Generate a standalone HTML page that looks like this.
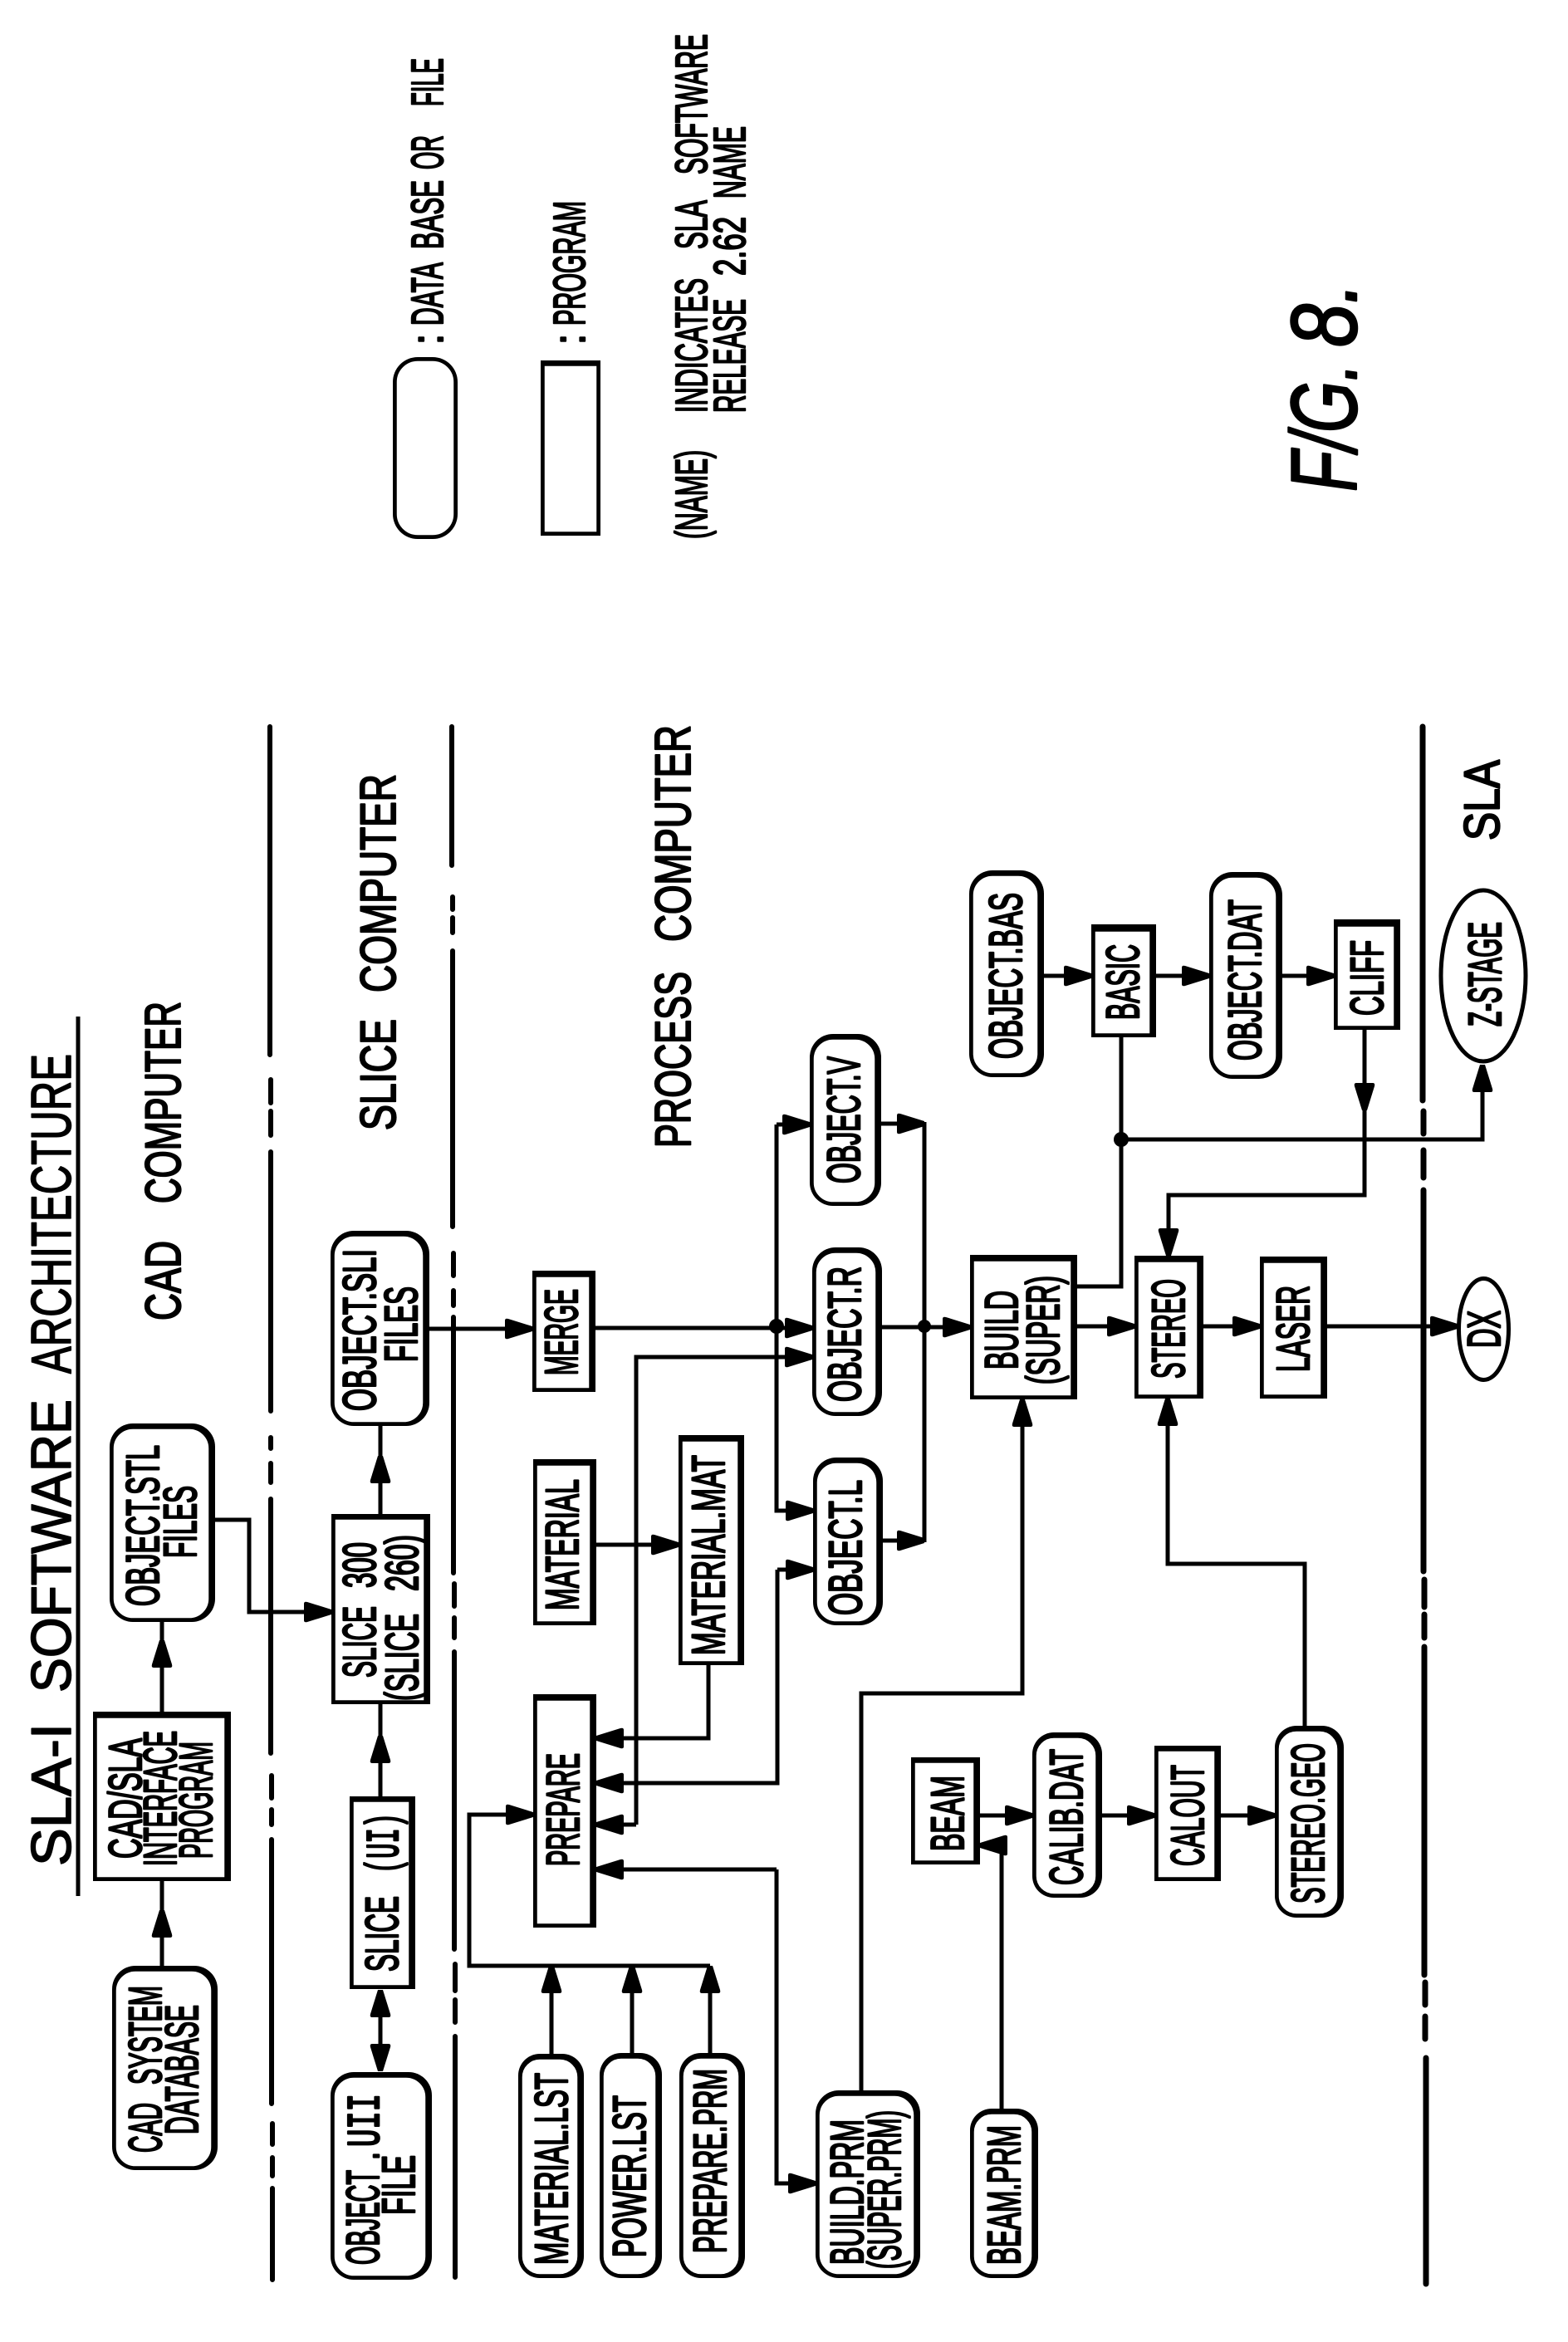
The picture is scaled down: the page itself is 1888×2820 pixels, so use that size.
<!DOCTYPE html>
<html><head><meta charset="utf-8"><title>SLA-1 Software Architecture</title>
<style>
html,body{margin:0;padding:0;background:#fff}
svg{display:block}
text{font-family:"Liberation Sans",sans-serif;fill:#000;stroke:#000;stroke-width:2.7;stroke-linejoin:round;font-size:56px}
text.mono{font-family:"Liberation Mono",monospace}
.big{font-size:60px;stroke-width:2.2}
.ttl{font-size:68px;stroke-width:1.6}
.leg{font-size:54px;stroke-width:2.4}
.fig{font-size:112px;font-style:italic;stroke-width:2.5}
.o{fill:#000;stroke:none}
.i{fill:#fff;stroke:#000;stroke-width:1.5}
.c{fill:none;stroke:#000;stroke-width:5;stroke-linejoin:miter}
.c .m{marker-end:url(#a)}
.d{fill:none;stroke:#000;stroke-width:6;stroke-linecap:round}
</style></head>
<body>
<svg xmlns="http://www.w3.org/2000/svg" width="1888" height="2820" viewBox="0 0 1888 2820">
<defs>
<marker id="a" markerUnits="userSpaceOnUse" markerWidth="36" markerHeight="26" refX="33" refY="13" orient="auto" viewBox="0 0 36 26">
<path d="M0 3Q0 0 4 1L33 10V16L4 25Q0 26 0 23Z" fill="#000"/>
</marker>
</defs>
<rect width="1888" height="2820" fill="#fff"/>

<!-- dash-dot dividers -->
<path class="d" d="M325 875V1270M326 1300V1328M326 1338V1367M326 1387V1699M326 1731V1744M326 1762V1785M326 1805V2111M327 2138V2165M327 2179V2197M327 2215V2533M328 2557V2582M328 2598V2620M328 2635V2745"/>
<path class="d" d="M544 875V1042M545 1080V1095M545 1105V1123M545 1145V1477M546 1509V1536M546 1554V1572M546 1586V1894M547 1907V1934M547 1948V1972M547 1989V2347M548 2365V2397M548 2408V2435M548 2452V2742"/>
<path class="d" style="stroke-width:7" d="M1713 875V1325M1714 1338V1365M1714 1385V1418M1714 1433V1892M1715 1902V1935M1715 1944V1972M1715 1983V2378M1716 2387V2414M1716 2428V2455M1717 2478V2750"/>
<path d="M94 1224V2283" stroke="#000" stroke-width="5" fill="none"/>

<!-- rounded data boxes -->
<rect class="o" x="135" y="2367" width="127" height="246" rx="28"/><rect class="i" x="139" y="2373" width="116" height="236" rx="24"/>
<rect class="o" x="132" y="1714" width="127" height="239" rx="28"/><rect class="i" x="136" y="1720" width="116" height="229" rx="24"/>
<rect class="o" x="398" y="1482" width="119" height="235" rx="28"/><rect class="i" x="402" y="1488" width="108" height="225" rx="24"/>
<rect class="o" x="398" y="2495" width="122" height="250" rx="28"/><rect class="i" x="402" y="2501" width="111" height="240" rx="24"/>
<rect class="o" x="624" y="2473" width="79" height="270" rx="26"/><rect class="i" x="628" y="2479" width="68" height="260" rx="22"/>
<rect class="o" x="722" y="2472" width="75" height="271" rx="26"/><rect class="i" x="726" y="2478" width="64" height="261" rx="22"/>
<rect class="o" x="818" y="2472" width="79" height="271" rx="26"/><rect class="i" x="822" y="2478" width="68" height="261" rx="22"/>
<rect class="o" x="975" y="1245" width="86" height="207" rx="28"/><rect class="i" x="979" y="1251" width="75" height="197" rx="24"/>
<rect class="o" x="978" y="1502" width="84" height="203" rx="28"/><rect class="i" x="982" y="1508" width="73" height="193" rx="24"/>
<rect class="o" x="979" y="1755" width="84" height="202" rx="28"/><rect class="i" x="983" y="1761" width="73" height="192" rx="24"/>
<rect class="o" x="982" y="2517" width="126" height="226" rx="28"/><rect class="i" x="986" y="2523" width="115" height="216" rx="24"/>
<rect class="o" x="1168" y="2539" width="82" height="204" rx="26"/><rect class="i" x="1172" y="2545" width="71" height="194" rx="22"/>
<rect class="o" x="1243" y="2086" width="84" height="199" rx="26"/><rect class="i" x="1247" y="2092" width="73" height="189" rx="22"/>
<rect class="o" x="1535" y="2078" width="83" height="231" rx="26"/><rect class="i" x="1539" y="2084" width="72" height="221" rx="22"/>
<rect class="o" x="1167" y="1048" width="90" height="249" rx="28"/><rect class="i" x="1171" y="1054" width="79" height="239" rx="24"/>
<rect class="o" x="1456" y="1050" width="88" height="249" rx="28"/><rect class="i" x="1460" y="1056" width="77" height="239" rx="24"/>
<rect class="o" x="473" y="430" width="78" height="219" rx="30"/><rect class="i" x="477" y="434" width="70" height="211" rx="26"/>

<!-- program boxes -->
<rect class="o" x="112" y="2061" width="166" height="204"/><rect class="i" x="116" y="2068" width="155" height="193"/>
<rect class="o" x="399" y="1823" width="119" height="229"/><rect class="i" x="403" y="1829" width="108" height="219"/>
<rect class="o" x="421" y="2163" width="79" height="232"/><rect class="i" x="425" y="2169" width="68" height="222"/>
<rect class="o" x="641" y="1530" width="76" height="146"/><rect class="i" x="645" y="1537" width="65" height="135"/>
<rect class="o" x="642" y="1757" width="76" height="200"/><rect class="i" x="646" y="1764" width="65" height="189"/>
<rect class="o" x="817" y="1728" width="79" height="277"/><rect class="i" x="821" y="1735" width="68" height="266"/>
<rect class="o" x="642" y="2040" width="76" height="281"/><rect class="i" x="646" y="2047" width="65" height="270"/>
<rect class="o" x="1168" y="1511" width="129" height="174"/><rect class="i" x="1172" y="1518" width="118" height="163"/>
<rect class="o" x="1366" y="1512" width="83" height="172"/><rect class="i" x="1370" y="1519" width="72" height="161"/>
<rect class="o" x="1517" y="1513" width="81" height="171"/><rect class="i" x="1521" y="1520" width="70" height="160"/>
<rect class="o" x="1097" y="2116" width="83" height="129"/><rect class="i" x="1101" y="2122" width="72" height="119"/>
<rect class="o" x="1390" y="2102" width="80" height="163"/><rect class="i" x="1394" y="2108" width="69" height="153"/>
<rect class="o" x="1314" y="1113" width="78" height="136"/><rect class="i" x="1318" y="1121" width="67" height="124"/>
<rect class="o" x="1606" y="1107" width="80" height="133"/><rect class="i" x="1610" y="1115" width="69" height="121"/>
<rect class="o" x="651" y="434" width="72" height="211"/><rect class="i" x="655" y="440" width="64" height="201"/>

<!-- ellipses -->
<ellipse cx="1786.5" cy="1600.5" rx="30" ry="61" fill="#fff" stroke="#000" stroke-width="5"/>
<ellipse cx="1786" cy="1175" rx="51" ry="103" fill="#fff" stroke="#000" stroke-width="5"/>

<!-- connectors -->
<g class="c">
<path d="M195 2367V2265"/><path class="m" d="M195 2340V2300"/>
<path d="M195 2061V1953"/><path class="m" d="M195 2028V1975"/>
<path class="m" d="M259 1830H300V1941H399"/>
<path d="M458 2163V2052"/><path class="m" d="M458 2128V2090"/>
<path d="M458 1823V1717"/><path class="m" d="M458 1788V1753"/>
<path class="m" d="M458 2470V2396"/><path class="m" d="M458 2420V2494"/>
<path class="m" d="M517 1600H641"/>
<path class="m" d="M717 1599H978"/>
<path class="m" d="M766 2197V1634H978"/><path class="m" d="M766 2197H718"/>
<path class="m" d="M718 1860H817"/>
<path class="m" d="M853 2005V2093H718"/>
<path class="m" d="M936 1890V2147H718"/><path class="m" d="M936 1890H979"/>
<path class="m" d="M935 2251H718"/><path class="m" d="M935 2251V2629H982"/>
<path class="m" d="M664 2473V2367"/><path class="m" d="M761 2472V2367"/><path class="m" d="M855 2473V2367"/>
<path class="m" d="M855 2367H565V2185H642"/>
<path class="m" d="M935 1354V1819H979"/><path class="m" d="M935 1354H975"/>
<path class="m" d="M1061 1598H1168"/>
<path class="m" d="M1061 1353H1113"/><path class="m" d="M1063 1855H1113"/><path d="M1113 1351V1857"/>
<path class="m" d="M1297 1597H1366"/><path class="m" d="M1449 1597H1517"/><path class="m" d="M1598 1597H1755"/>
<path class="m" d="M1037 2517V2039H1231V1685"/>
<path class="m" d="M1206 2539V2222H1180"/>
<path class="m" d="M1180 2186H1243"/><path class="m" d="M1327 2186H1390"/><path class="m" d="M1470 2186H1535"/>
<path class="m" d="M1571 2078V1883H1406V1684"/>
<path class="m" d="M1257 1175H1314"/><path class="m" d="M1392 1175H1456"/><path class="m" d="M1544 1175H1606"/>
<path d="M1350 1249V1549H1297"/>
<path class="m" d="M1350 1372H1785V1282"/>
<path class="m" d="M1643 1240V1439H1407V1512"/><path class="m" d="M1643 1300V1337"/>
</g>
<circle cx="935" cy="1597" r="9"/><circle cx="1113" cy="1597" r="8"/><circle cx="1350" cy="1372" r="9"/>

<!-- headings -->
<text class="ttl" transform="translate(85,2247) rotate(-90)" textLength="172" lengthAdjust="spacingAndGlyphs">SLA-I</text>
<text class="ttl" transform="translate(85,2038) rotate(-90)" textLength="353" lengthAdjust="spacingAndGlyphs">SOFTWARE</text>
<text class="ttl" transform="translate(85,1654) rotate(-90)" textLength="385" lengthAdjust="spacingAndGlyphs">ARCHITECTURE</text>
<text class="big" transform="translate(217,1590) rotate(-90)" textLength="96" lengthAdjust="spacingAndGlyphs">CAD</text>
<text class="big" transform="translate(217,1449) rotate(-90)" textLength="243" lengthAdjust="spacingAndGlyphs">COMPUTER</text>
<text class="big" transform="translate(476,1361) rotate(-90)" textLength="134" lengthAdjust="spacingAndGlyphs">SLICE</text>
<text class="big" transform="translate(476,1195) rotate(-90)" textLength="263" lengthAdjust="spacingAndGlyphs">COMPUTER</text>
<text class="big" transform="translate(831,1382) rotate(-90)" textLength="212" lengthAdjust="spacingAndGlyphs">PROCESS</text>
<text class="big" transform="translate(831,1134) rotate(-90)" textLength="261" lengthAdjust="spacingAndGlyphs">COMPUTER</text>
<text class="big" transform="translate(1805,1012) rotate(-90)" textLength="97" lengthAdjust="spacingAndGlyphs">SLA</text>

<!-- box labels -->
<text transform="translate(194,2592) rotate(-90)" textLength="60" lengthAdjust="spacingAndGlyphs">CAD</text>
<text transform="translate(194,2510) rotate(-90)" textLength="119" lengthAdjust="spacingAndGlyphs">SYSTEM</text>
<text transform="translate(238,2570) rotate(-90)" textLength="156" lengthAdjust="spacingAndGlyphs">DATABASE</text>
<text transform="translate(170,2238) rotate(-90)" textLength="145" lengthAdjust="spacingAndGlyphs">CAD/SLA</text>
<text transform="translate(212,2247) rotate(-90)" textLength="163" lengthAdjust="spacingAndGlyphs">INTERFACE</text>
<text transform="translate(255,2238) rotate(-90)" textLength="141" lengthAdjust="spacingAndGlyphs">PROGRAM</text>
<text transform="translate(191,1934) rotate(-90)" textLength="194" lengthAdjust="spacingAndGlyphs">OBJECT.STL</text>
<text transform="translate(236,1876) rotate(-90)" textLength="87" lengthAdjust="spacingAndGlyphs">FILES</text>
<text transform="translate(452,2020) rotate(-90)" textLength="86" lengthAdjust="spacingAndGlyphs">SLICE</text>
<text transform="translate(452,1912) rotate(-90)" textLength="55" lengthAdjust="spacingAndGlyphs">300</text>
<text transform="translate(503,2048) rotate(-90)" textLength="105" lengthAdjust="spacingAndGlyphs">(SLICE</text>
<text transform="translate(503,1916) rotate(-90)" textLength="68" lengthAdjust="spacingAndGlyphs">260)</text>
<text transform="translate(452,1699) rotate(-90)" textLength="195" lengthAdjust="spacingAndGlyphs">OBJECT.SLI</text>
<text transform="translate(502,1640) rotate(-90)" textLength="91" lengthAdjust="spacingAndGlyphs">FILES</text>
<text transform="translate(479,2374) rotate(-90)" textLength="91" lengthAdjust="spacingAndGlyphs">SLICE</text>
<text class="mono" transform="translate(479,2256) rotate(-90)" textLength="73" lengthAdjust="spacingAndGlyphs">(UI)</text>
<text transform="translate(456,2727) rotate(-90)" textLength="114" lengthAdjust="spacingAndGlyphs">OBJECT</text>
<text transform="translate(456,2601) rotate(-90)" textLength="10" lengthAdjust="spacingAndGlyphs">.</text>
<text class="mono" transform="translate(456,2585) rotate(-90)" textLength="64" lengthAdjust="spacingAndGlyphs">UII</text>
<text transform="translate(499,2667) rotate(-90)" textLength="72" lengthAdjust="spacingAndGlyphs">FILE</text>
<text transform="translate(695,1656) rotate(-90)" textLength="104" lengthAdjust="spacingAndGlyphs">MERGE</text>
<text transform="translate(696,1939) rotate(-90)" textLength="158" lengthAdjust="spacingAndGlyphs">MATERIAL</text>
<text transform="translate(872,1993) rotate(-90)" textLength="241" lengthAdjust="spacingAndGlyphs">MATERIAL.MAT</text>
<text transform="translate(697,2247) rotate(-90)" textLength="136" lengthAdjust="spacingAndGlyphs">PREPARE</text>
<text transform="translate(683,2727) rotate(-90)" textLength="231" lengthAdjust="spacingAndGlyphs">MATERIAL.LST</text>
<text transform="translate(777,2718) rotate(-90)" textLength="195" lengthAdjust="spacingAndGlyphs">POWER.LST</text>
<text transform="translate(874,2713) rotate(-90)" textLength="222" lengthAdjust="spacingAndGlyphs">PREPARE.PRM</text>
<text transform="translate(1035,1425) rotate(-90)" textLength="153" lengthAdjust="spacingAndGlyphs">OBJECT.V</text>
<text transform="translate(1036,1688) rotate(-90)" textLength="163" lengthAdjust="spacingAndGlyphs">OBJECT.R</text>
<text transform="translate(1037,1945) rotate(-90)" textLength="163" lengthAdjust="spacingAndGlyphs">OBJECT.L</text>
<text transform="translate(1225,1649) rotate(-90)" textLength="95" lengthAdjust="spacingAndGlyphs">BUILD</text>
<text transform="translate(1275,1667) rotate(-90)" textLength="131" lengthAdjust="spacingAndGlyphs">(SUPER)</text>
<text transform="translate(1426,1660) rotate(-90)" textLength="120" lengthAdjust="spacingAndGlyphs">STEREO</text>
<text transform="translate(1576,1652) rotate(-90)" textLength="104" lengthAdjust="spacingAndGlyphs">LASER</text>
<text transform="translate(1806,1623) rotate(-90)" textLength="45" lengthAdjust="spacingAndGlyphs">DX</text>
<text transform="translate(1230,1275) rotate(-90)" textLength="200" lengthAdjust="spacingAndGlyphs">OBJECT.BAS</text>
<text transform="translate(1371,1228) rotate(-90)" textLength="91" lengthAdjust="spacingAndGlyphs">BASIC</text>
<text transform="translate(1518,1277) rotate(-90)" textLength="194" lengthAdjust="spacingAndGlyphs">OBJECT.DAT</text>
<text transform="translate(1665,1223) rotate(-90)" textLength="91" lengthAdjust="spacingAndGlyphs">CLIFF</text>
<text transform="translate(1807,1236) rotate(-90)" textLength="126" lengthAdjust="spacingAndGlyphs">Z-STAGE</text>
<text transform="translate(1160,2229) rotate(-90)" textLength="91" lengthAdjust="spacingAndGlyphs">BEAM</text>
<text transform="translate(1303,2270) rotate(-90)" textLength="164" lengthAdjust="spacingAndGlyphs">CALIB.DAT</text>
<text transform="translate(1449,2247) rotate(-90)" textLength="122" lengthAdjust="spacingAndGlyphs">CALOUT</text>
<text transform="translate(1594,2292) rotate(-90)" textLength="193" lengthAdjust="spacingAndGlyphs">STEREO.GEO</text>
<text transform="translate(1039,2727) rotate(-90)" textLength="175" lengthAdjust="spacingAndGlyphs">BUILD.PRM</text>
<text transform="translate(1084,2732) rotate(-90)" textLength="191" lengthAdjust="spacingAndGlyphs">(SUPER.PRM)</text>
<text transform="translate(1228,2727) rotate(-90)" textLength="168" lengthAdjust="spacingAndGlyphs">BEAM.PRM</text>

<!-- legend -->
<text class="leg" transform="translate(533,415) rotate(-90)" textLength="13" lengthAdjust="spacingAndGlyphs">:</text>
<text class="leg" transform="translate(533,392) rotate(-90)" textLength="76" lengthAdjust="spacingAndGlyphs">DATA</text>
<text class="leg" transform="translate(533,300) rotate(-90)" textLength="83" lengthAdjust="spacingAndGlyphs">BASE</text>
<text class="leg" transform="translate(533,204) rotate(-90)" textLength="41" lengthAdjust="spacingAndGlyphs">OR</text>
<text class="leg" transform="translate(533,128) rotate(-90)" textLength="58" lengthAdjust="spacingAndGlyphs">FILE</text>
<text class="leg" transform="translate(704,415) rotate(-90)" textLength="13" lengthAdjust="spacingAndGlyphs">:</text>
<text class="leg" transform="translate(704,392) rotate(-90)" textLength="150" lengthAdjust="spacingAndGlyphs">PROGRAM</text>
<text class="leg" transform="translate(851,649) rotate(-90)" textLength="107" lengthAdjust="spacingAndGlyphs">(NAME)</text>
<text class="leg" transform="translate(851,497) rotate(-90)" textLength="162" lengthAdjust="spacingAndGlyphs">INDICATES</text>
<text class="leg" transform="translate(851,300) rotate(-90)" textLength="59" lengthAdjust="spacingAndGlyphs">SLA</text>
<text class="leg" transform="translate(851,210) rotate(-90)" textLength="169" lengthAdjust="spacingAndGlyphs">SOFTWARE</text>
<text class="leg" transform="translate(897,497) rotate(-90)" textLength="137" lengthAdjust="spacingAndGlyphs">RELEASE</text>
<text class="leg" transform="translate(897,332) rotate(-90)" textLength="71" lengthAdjust="spacingAndGlyphs">2.62</text>
<text class="leg" transform="translate(897,239) rotate(-90)" textLength="87" lengthAdjust="spacingAndGlyphs">NAME</text>

<text class="fig" transform="translate(1633,592) rotate(-90)" textLength="155" lengthAdjust="spacingAndGlyphs">F/G.</text>
<text class="fig" transform="translate(1633,418) rotate(-90)" textLength="78" lengthAdjust="spacingAndGlyphs">8.</text>
</svg>
</body></html>
